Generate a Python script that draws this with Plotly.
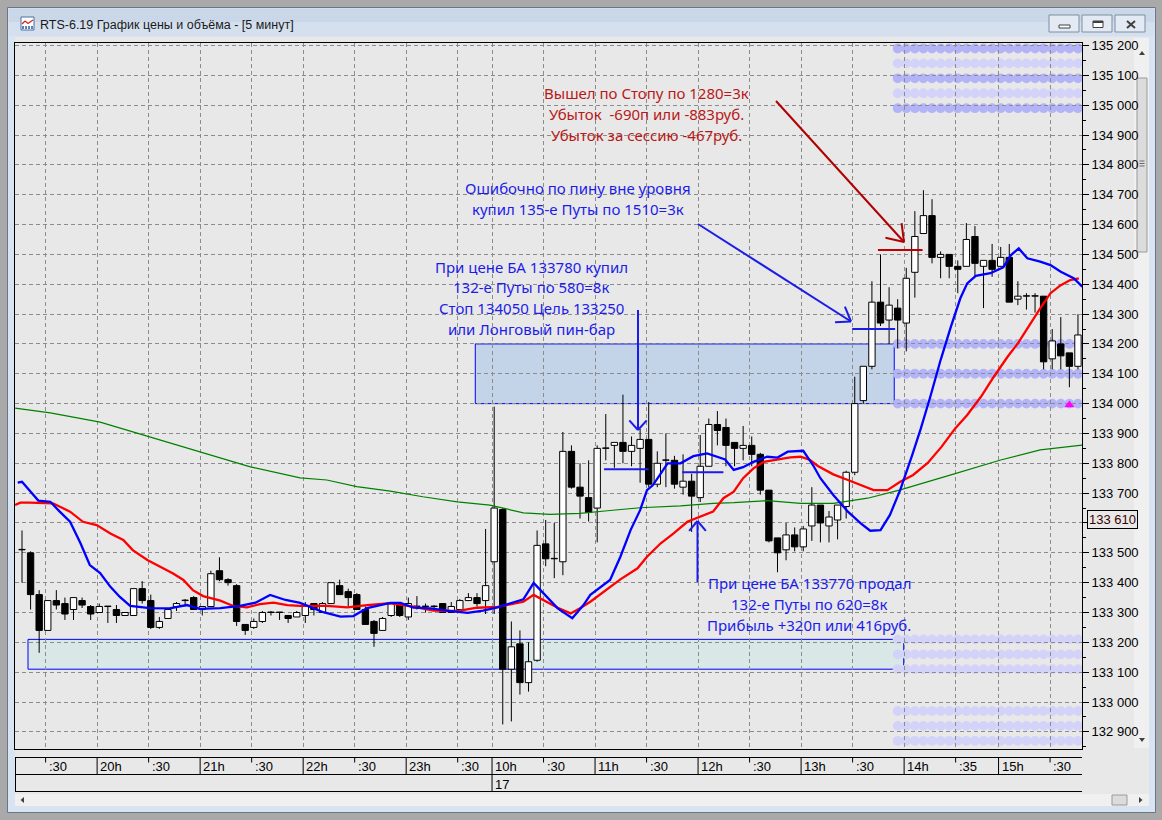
import math
import plotly.graph_objects as go

# 5-minute bars RTS-6.19: evening session from 19:15 (idx 0..54), day session from 10:00 (idx 55..)
opens = [133510, 133500, 133360, 133240, 133340, 133330, 133310, 133340, 133320, 133300,
         133320, 133310, 133290, 133290, 133380, 133340, 133250, 133280, 133320, 133340,
         133350, 133310, 133320, 133440, 133410, 133390, 133260, 133250, 133270, 133300,
         133300, 133290, 133285, 133290, 133330, 133300, 133330, 133390, 133370, 133360,
         133310, 133270, 133240, 133290, 133330, 133285, 133320, 133320, 133320, 133330,
         133300, 133310, 133340, 133350, 133340, 133470, 133645, 133110, 133195, 133065,
         133140, 133530, 133480, 133470, 133840, 133720, 133685, 133650, 133850, 133860,
         133870, 133840, 133850, 133880, 133730, 133810, 133810, 133720, 133740, 133685,
         133790, 133930, 133920, 133870, 133850, 133860, 133830, 133710, 133550, 133510,
         133560, 133520, 133590, 133660, 133590, 133610, 133655, 133770, 134010, 134125,
         134340, 134280, 134320, 134270, 134440, 134570, 134630, 134490, 134500, 134460,
         134460, 134560, 134460, 134480, 134460, 134490, 134350, 134360, 134360, 134360,
         134150, 134200, 134170, 134125]
highs = [133575, 133505, 133375, 133340, 133375, 133350, 133350, 133350, 133325, 133330,
         133320, 133325, 133300, 133380, 133405, 133360, 133285, 133315, 133335, 133345,
         133355, 133320, 133440, 133485, 133415, 133395, 133260, 133280, 133305, 133305,
         133300, 133290, 133305, 133335, 133330, 133335, 133400, 133410, 133380, 133365,
         133320, 133275, 133285, 133335, 133335, 133350, 133355, 133330, 133325, 133330,
         133335, 133345, 133365, 133365, 133580, 133990, 133650, 133270, 133240, 133200,
         133575, 133610, 133600, 133905, 133860, 133800, 133810, 133860, 133965, 133870,
         134030, 133890, 133915, 134005, 133840, 133900, 133825, 133830, 133765, 133895,
         133950, 133975, 133950, 133870, 133925, 133890, 133835, 133710, 133550, 133600,
         133585, 133590, 133720, 133660, 133640, 133660, 133775, 134090, 134125, 134410,
         134500, 134390, 134350, 134455, 134645, 134715, 134685, 134510, 134500, 134480,
         134605, 134595, 134480, 134535, 134525, 134535, 134410, 134370, 134370, 134360,
         134250, 134290, 134170, 134300]
lows = [133400, 133310, 133165, 133240, 133310, 133275, 133275, 133315, 133275, 133300,
        133265, 133265, 133290, 133290, 133330, 133245, 133245, 133280, 133305, 133320,
        133310, 133290, 133320, 133405, 133390, 133255, 133225, 133245, 133265, 133290,
        133275, 133265, 133285, 133265, 133290, 133300, 133330, 133360, 133320, 133310,
        133260, 133185, 133240, 133285, 133285, 133275, 133310, 133300, 133310, 133300,
        133300, 133310, 133340, 133320, 133295, 133295, 132925, 132935, 133025, 133035,
        133135, 133455, 133415, 133425, 133715, 133615, 133605, 133535, 133810, 133785,
        133800, 133790, 133735, 133720, 133720, 133720, 133715, 133695, 133570, 133670,
        133790, 133860, 133790, 133790, 133810, 133790, 133695, 133535, 133435, 133475,
        133505, 133505, 133540, 133535, 133535, 133545, 133615, 133760, 134000, 134115,
        134260, 134200, 134185, 134175, 134355, 134570, 134470, 134420, 134420, 134370,
        134460, 134425, 134320, 134425, 134460, 134340, 134330, 134315, 134305, 134115,
        134115, 134115, 134055, 134115]
closes = [133510, 133360, 133240, 133340, 133325, 133295, 133350, 133325, 133295, 133320,
          133320, 133290, 133300, 133380, 133340, 133250, 133270, 133310, 133330, 133340,
          133310, 133320, 133430, 133410, 133400, 133270, 133240, 133270, 133300, 133300,
          133300, 133280, 133300, 133320, 133310, 133330, 133400, 133360, 133350, 133310,
          133260, 133230, 133280, 133330, 133290, 133330, 133320, 133320, 133320, 133300,
          133320, 133340, 133350, 133330, 133390, 133650, 133110, 133185, 133065, 133135,
          133525, 133480, 133480, 133840, 133720, 133690, 133635, 133850, 133850, 133870,
          133840, 133860, 133880, 133730, 133800, 133810, 133730, 133740, 133690, 133790,
          133930, 133910, 133860, 133850, 133860, 133830, 133710, 133540, 133500, 133560,
          133520, 133580, 133660, 133600, 133620, 133660, 133770, 134000, 134125, 134340,
          134270, 134330, 134280, 134420, 134560, 134630, 134490, 134500, 134460, 134450,
          134550, 134470, 134480, 134450, 134490, 134340, 134360, 134360, 134360, 134140,
          134210, 134160, 134125, 134230]

# moving averages (bar index, price)
fast_ma_x = [-0.5, 0, 1.9, 3.3, 4.4, 5.6, 6.8, 7.9, 9.1, 10.3, 11.4, 12.6, 14.9, 17.2, 19.2, 20.7,
             23.1, 25.4, 27.2, 28.9, 30.7, 32.4, 35.1, 37.1, 38.6, 40.2, 42.9, 44.1, 45.6, 47.6,
             49.5, 51.9, 53.7, 55.4, 56.9, 58.4, 59.6, 60.7, 62.4, 64.1, 65.4, 66.2, 68.5, 69.7,
             70.9, 72.0, 72.8, 73.5, 75.2, 76.7, 78.2, 79.8, 81.0, 81.9, 82.9, 84.0, 85.2, 86.8,
             88.0, 89.2, 91.0, 92.2, 93.0, 94.5, 96.2, 97.7, 98.8, 100.0, 101.1, 102.3, 103.7,
             104.7, 105.8, 107.0, 108.2, 109.3, 110.1, 111.1, 112.8, 114.3, 115.2, 116.1, 117.1,
             118.6, 119.8, 121.0, 122.5, 123.5]
fast_ma_y = [133735, 133738, 133675, 133671, 133638, 133604, 133533, 133459, 133432, 133386,
             133352, 133322, 133315, 133314, 133325, 133312, 133315, 133322, 133333, 133359,
             133342, 133332, 133301, 133286, 133288, 133315, 133332, 133332, 133316, 133314,
             133306, 133299, 133306, 133317, 133331, 133344, 133399, 133365, 133314, 133281,
             133325, 133359, 133409, 133487, 133577, 133643, 133710, 133727, 133800, 133800,
             133824, 133833, 133822, 133813, 133778, 133787, 133805, 133822, 133819, 133839,
             133842, 133791, 133750, 133694, 133638, 133599, 133574, 133576, 133627, 133711,
             133828, 133917, 134023, 134146, 134258, 134353, 134403, 134428, 134437, 134457,
             134498, 134520, 134487, 134476, 134464, 134442, 134420, 134392]
mid_ma_x = [-0.8, -0.2, 0.9, 2.1, 3.6, 5.6, 7.1, 8.7, 10.3, 11.8, 12.9, 14.6, 16.1, 17.6, 18.8,
            19.9, 21.1, 23.1, 24.6, 26.2, 27.7, 29.3, 30.9, 32.4, 35.5, 37.9, 40.2, 42.9, 45.6,
            47.9, 50.7, 53.0, 55.4, 58.4, 59.6, 60.7, 62.4, 63.9, 65.0, 66.2, 69.7, 71.7, 72.8,
            74.4, 75.9, 77.5, 79.0, 80.5, 81.7, 82.9, 84.0, 85.2, 86.4, 88.0, 89.5, 90.7, 91.8,
            92.7, 94.5, 96.2, 97.7, 99.2, 100.8, 102.3, 103.8, 105.5, 107.1, 108.7, 110.1, 111.7,
            113.2, 114.8, 116.0, 117.1, 118.6, 119.8, 121.0, 122.1, 123.1]
mid_ma_y = [133660, 133668, 133668, 133666, 133666, 133638, 133604, 133593, 133565, 133543,
            133509, 133476, 133453, 133431, 133409, 133375, 133355, 133340, 133322, 133317,
            133328, 133333, 133325, 133322, 133322, 133317, 133325, 133331, 133320, 133306,
            133305, 133316, 133319, 133336, 133359, 133342, 133316, 133297, 133314, 133336,
            133411, 133448, 133487, 133532, 133565, 133604, 133621, 133638, 133683, 133705,
            133750, 133783, 133805, 133814, 133820, 133822, 133811, 133791, 133763, 133744,
            133727, 133710, 133710, 133738, 133761, 133801, 133855, 133917, 133962, 134023,
            134090, 134157, 134202, 134252, 134319, 134370, 134397, 134414, 134420]
slow_ma_x = [-0.8, 3.3, 9.1, 14.9, 20.7, 26.6, 32.4, 35.5, 39.0, 42.9, 46.7, 50.7, 54.5, 58.4,
             61.5, 65.0, 68.2, 72.0, 76.7, 80.5, 82.9, 86.8, 90.7, 94.5, 98.5, 102.3, 108.2,
             114.0, 118.6, 123.5]
slow_ma_y = [133985, 133969, 133938, 133888, 133838, 133788, 133751, 133744, 133722, 133707,
             133688, 133671, 133660, 133634, 133629, 133632, 133641, 133651, 133657, 133666,
             133668, 133675, 133666, 133666, 133683, 133711, 133761, 133811, 133845, 133861]

# time axis
time_tick_idx = [3, 9, 15, 21, 27, 33, 39, 45, 51, 55, 61, 67, 73, 79, 85, 91, 97, 103, 109, 114, 120]
time_tick_text = [":30", "20h", ":30", "21h", ":30", "22h", ":30", "23h", ":30", "10h", ":30",
                  "11h", ":30", "12h", ":30", "13h", ":30", "14h", ":35", "15h", ":30"]
day_idx = 55
day_text = "17"

# price axis
price_ticks = [132900, 133000, 133100, 133200, 133300, 133400, 133500, 133600, 133700, 133800,
               133900, 134000, 134100, 134200, 134300, 134400, 134500, 134600, 134700, 134800,
               134900, 135000, 135100, 135200]
last_mark = 133610

# zones (rectangles)
zone_lo = [134000, 133110]
zone_hi = [134200, 133210]
zone_from = [52.8, 0.7]
zone_to = [101.6, 102.7]

# trade levels
level_price = [133780, 133770, 134250, 134515]
level_from = [67.8, 76.9, 96.7, 99.7]
level_to = [73.0, 81.7, 101.7, 104.9]

# dotted price levels on the right
dot_levels = [135190, 135140, 135090, 135040, 134990, 134200, 134100, 134000,
              133210, 133160, 133110, 132970, 132920, 132870]
dot_strong = [1, 0, 1, 0, 1, 1, 1, 1, 0, 0, 0, 0, 0, 0]
dot_from, dot_to = 102, 123

signal_idx = 122
signal_price = 133995

# ---------- geometry ----------
W, H = 1162, 820
PL, PR, PT, PB = 15, 1082, 43, 749
XMIN, XMAX = -0.815, 123.47
YMIN, YMAX = 132842.6, 135208.4
BLUE = "#1c1ce8"
RED_TXT = "#b81818"
UI_FONT = "Liberation Sans Narrow, Liberation Sans, Arial"


def fx(px):
    return (px - PL) / (PR - PL)


def fy(py):
    return (PB - py) / (PB - PT)


def ix(i):
    return (i - XMIN) / (XMAX - XMIN)


def price_label(v):
    return f"{v:,}".replace(",", " ")


shapes = []
annotations = []


def rect_px(x0, y0, x1, y1, fill, line=None, lw=1):
    shapes.append(dict(type="rect", xref="paper", yref="paper", layer="below",
                       x0=fx(x0), x1=fx(x1), y0=fy(y1), y1=fy(y0), fillcolor=fill,
                       line=dict(color=line or fill, width=lw if line else 0)))


def line_px(x0, y0, x1, y1, color, w=1, layer="above"):
    shapes.append(dict(type="line", xref="paper", yref="paper", layer=layer,
                       x0=fx(x0), x1=fx(x1), y0=fy(y0), y1=fy(y1),
                       line=dict(color=color, width=w)))


def poly_px(pts, fill):
    d = "M " + " L ".join(f"{fx(a):.5f},{fy(b):.5f}" for a, b in pts) + " Z"
    shapes.append(dict(type="path", xref="paper", yref="paper", layer="below", path=d,
                       fillcolor=fill, line=dict(width=0)))


# window chrome
rect_px(7.5, 7.5, 1155.5, 812.5, "#d9e4f2", "#6b7788")
rect_px(8.5, 8.5, 1154.5, 22, "#c9d7e9")
rect_px(8.5, 22, 1154.5, 36, "#d4e0ee")
rect_px(15, 37, 1149, 806, "#e8e8e8")
rect_px(1134, 38, 1149, 748, "#f0f0f0")
rect_px(1137, 78, 1147, 252, "#dcdcdc", "#9a9a9a")
for gy in (161, 163.5, 166):
    line_px(1139.5, gy, 1144.5, gy, "#6a6a6a", 1, "below")
poly_px([(1139, 55), (1145, 55), (1142, 51)], "#404040")
poly_px([(1139, 738), (1145, 738), (1142, 742)], "#404040")
rect_px(15, 794, 1149, 806, "#f0f0f0")
poly_px([(24, 797), (24, 803), (20.5, 800)], "#404040")
poly_px([(1139, 797), (1139, 803), (1142.5, 800)], "#404040")
rect_px(1112, 795, 1127, 805, "#dcdcdc", "#9a9a9a")
for bx0, bx1 in ((1049, 1079), (1082, 1112), (1115, 1145)):
    rect_px(bx0, 15, bx1, 32, "#e3eaf4", "#7f8da3")
rect_px(1059, 25, 1070, 28, "#ffffff", "#404040")
rect_px(1093, 21, 1103, 27.5, "#ffffff", "#404040")
rect_px(1093, 21, 1103, 23, "#404040")
line_px(1127, 21, 1135, 28, "#404040", 2)
line_px(1135, 21, 1127, 28, "#404040", 2)
# title icon
rect_px(21, 17, 34, 30, "#ffffff", "#4f6f9f")
line_px(22, 24, 25, 21, "#d02020", 1.2)
line_px(25, 21, 28, 23.5, "#d02020", 1.2)
line_px(28, 23.5, 33, 20, "#d02020", 1.2)
for bx in (23, 26, 29, 32):
    rect_px(bx - 0.8, 26, bx + 0.8, 29, "#3060b0")
annotations.append(dict(xref="paper", yref="paper", x=fx(38), y=fy(24.5), xanchor="left",
                        yanchor="middle", showarrow=False,
                        text="RTS-6.19 График цены и объёма - [5 минут]",
                        font=dict(family="Liberation Sans, Arial", size=12.5, color="#1a1a1a")))

# zones
zone_fill = ["#c4d4e8", "#d9e7e7"]
for lo, hi, a, b, c in zip(zone_lo, zone_hi, zone_from, zone_to, zone_fill):
    shapes.append(dict(type="rect", xref="x", yref="y", layer="below", x0=a, x1=b, y0=lo, y1=hi,
                       fillcolor=c, line=dict(color="#0000ff", width=1)))

# dotted levels
for lev, strong in zip(dot_levels, dot_strong):
    col = "#b3b3f8" if strong else "#d3d3fa"
    for i in range(dot_from, dot_to + 1):
        shapes.append(dict(type="circle", xref="x", yref="y", layer="below",
                           xsizemode="pixel", ysizemode="pixel", xanchor=i, yanchor=lev,
                           x0=-4.9, x1=4.9, y0=-4.9, y1=4.9, fillcolor=col, line=dict(width=0)))

# trade levels
level_col = [BLUE, BLUE, BLUE, "#c00000"]
for p, a, b, c in zip(level_price, level_from, level_to, level_col):
    shapes.append(dict(type="line", xref="x", yref="y", x0=a, x1=b, y0=p, y1=p,
                       line=dict(color=c, width=2)))

# arrows (pixel geometry of the hand-drawn marks)
arrows = [((638, 310, 638, 430), BLUE, 13, 42),
          ((697.5, 582, 697.5, 521), BLUE, 13, 40),
          ((698, 224, 851, 321.5), BLUE, 16, 35),
          ((776, 101, 904, 242), "#b00000", 19, 35)]
for (x0, y0, x1, y1), col, wing, ang in arrows:
    line_px(x0, y0, x1, y1, col, 2)
    back = math.atan2(y0 - y1, x0 - x1)
    for s in (-1, 1):
        b = back + s * math.radians(ang)
        line_px(x1, y1, x1 + wing * math.cos(b), y1 + wing * math.sin(b), col, 2)

# notes
notes = [(["Вышел по Стопу по 1280=3к", "Убыток\u00a0 -690п или -883руб.", "Убыток за сессию -467руб."],
          646, 93, RED_TXT),
         (["Ошибочно по пину вне уровня", "купил 135-е Путы по 1510=3к"], 578, 188.5, BLUE),
         (["При цене БА 133780 купил", "132-е Путы по 580=8к", "Стоп 134050 Цель 133250",
           "или Лонговый пин-бар"], 531, 266.5, BLUE),
         (["При цене БА 133770 продал", "132-е Путы по 620=8к", "Прибыль +320п или 416руб."],
          809, 583, BLUE)]
for lines, cx, cy, col in notes:
    for k, t in enumerate(lines):
        annotations.append(dict(xref="paper", yref="paper", x=fx(cx), y=fy(cy + 20.9 * k),
                                xanchor="center", yanchor="middle", showarrow=False, text=t,
                                font=dict(family="Noto Sans", size=15, color=col)))

# time axis box
for yy in (757.5, 774.5, 791.5):
    line_px(15, yy, 1082, yy, "black", 1)
line_px(15.5, 757.5, 15.5, 791.5, "black", 1)
for t, lab in zip(time_tick_idx, time_tick_text):
    xp = ix(t - 0.25)
    y_end = 791.5 if t == day_idx else (774.5 if lab.endswith("h") else 762.5)
    shapes.append(dict(type="line", xref="paper", yref="paper", x0=xp, x1=xp,
                       y0=fy(757.5), y1=fy(y_end), line=dict(color="black", width=1)))
    annotations.append(dict(xref="paper", yref="paper", x=xp, y=fy(766.5), xanchor="left",
                            yanchor="middle", xshift=1, showarrow=False, text=lab,
                            font=dict(family=UI_FONT, size=13, color="black")))
annotations.append(dict(xref="paper", yref="paper", x=ix(day_idx - 0.25), y=fy(784), xanchor="left",
                        yanchor="middle", xshift=1, showarrow=False, text=day_text,
                        font=dict(family=UI_FONT, size=13, color="black")))
# boxed price marker on the price scale (it hides the 133 600 label under it)
annotations.append(dict(xref="paper", yref="y", x=fx(1087), y=last_mark, xanchor="left",
                        yanchor="middle", showarrow=False, text=price_label(last_mark),
                        bordercolor="black", borderwidth=1, borderpad=1, bgcolor="#e8e8e8",
                        font=dict(family=UI_FONT, size=13, color="#3a0000")))
tick_text = ["" if abs(v - last_mark) < 50 else price_label(v) for v in price_ticks]

# ---------- traces ----------
n = len(opens)
up = [i for i in range(n) if closes[i] >= opens[i]]
dn = [i for i in range(n) if closes[i] < opens[i]]


def bodies(sel):
    base = [min(opens[i], closes[i]) for i in sel]
    size = [max(abs(closes[i] - opens[i]), 1.5) for i in sel]
    return base, size


wx, wy = [], []
for i in range(n):
    lo_b, hi_b = min(opens[i], closes[i]), max(opens[i], closes[i])
    if lows[i] < lo_b:
        wx += [i, i, None]
        wy += [lows[i], lo_b, None]
    if highs[i] > hi_b:
        wx += [i, i, None]
        wy += [hi_b, highs[i], None]

fig = go.Figure()
ub, us = bodies(up)
db, ds = bodies(dn)
fig.add_trace(go.Bar(x=up, y=us, base=ub, width=0.74, hoverinfo="skip",
                     marker=dict(color="white", line=dict(color="black", width=1))))
fig.add_trace(go.Bar(x=dn, y=ds, base=db, width=0.74, hoverinfo="skip",
                     marker=dict(color="black", line=dict(color="black", width=1))))
fig.add_trace(go.Scatter(x=wx, y=wy, mode="lines", line=dict(color="black", width=1),
                         hoverinfo="skip"))
fig.add_trace(go.Scatter(x=slow_ma_x, y=slow_ma_y, mode="lines",
                         line=dict(color="#008000", width=1.2), hoverinfo="skip"))
fig.add_trace(go.Scatter(x=mid_ma_x, y=mid_ma_y, mode="lines",
                         line=dict(color="#ff0000", width=2.3), hoverinfo="skip"))
fig.add_trace(go.Scatter(x=fast_ma_x, y=fast_ma_y, mode="lines",
                         line=dict(color="#0000ff", width=2.3), hoverinfo="skip"))
fig.add_trace(go.Scatter(x=[signal_idx], y=[signal_price], mode="markers", hoverinfo="skip",
                         marker=dict(symbol="triangle-up", size=9, color="#ff00ff")))

grid = dict(showgrid=True, gridcolor="#8c8c8c", griddash="4px,3px", gridwidth=1,
            showline=True, linecolor="black", linewidth=1, mirror=True, zeroline=False,
            fixedrange=True)
fig.update_layout(
    width=W, height=H, margin=dict(l=PL, r=W - PR, t=PT, b=H - PB),
    paper_bgcolor="#a9a9a9", plot_bgcolor="#e8e8e8", showlegend=False,
    barmode="overlay", hovermode=False,
    font=dict(family=UI_FONT, size=13, color="black"),
    xaxis=dict(range=[XMIN, XMAX], tickmode="array",
               tickvals=[t - 0.25 for t in time_tick_idx], showticklabels=False, ticks="", **grid),
    yaxis=dict(range=[YMIN, YMAX], side="right", tickmode="array", tickvals=price_ticks,
               ticktext=tick_text, ticks="outside", ticklen=6, tickcolor="black",
               minor=dict(ticks="outside", ticklen=3, dtick=50, tickcolor="black", showgrid=False),
               tickfont=dict(family=UI_FONT, size=13, color="black"), **grid),
    shapes=shapes, annotations=annotations,
)

fig.write_html("out.html", config={"displayModeBar": False},
               post_script="document.body.style.margin='0';document.body.style.overflow='hidden';")
